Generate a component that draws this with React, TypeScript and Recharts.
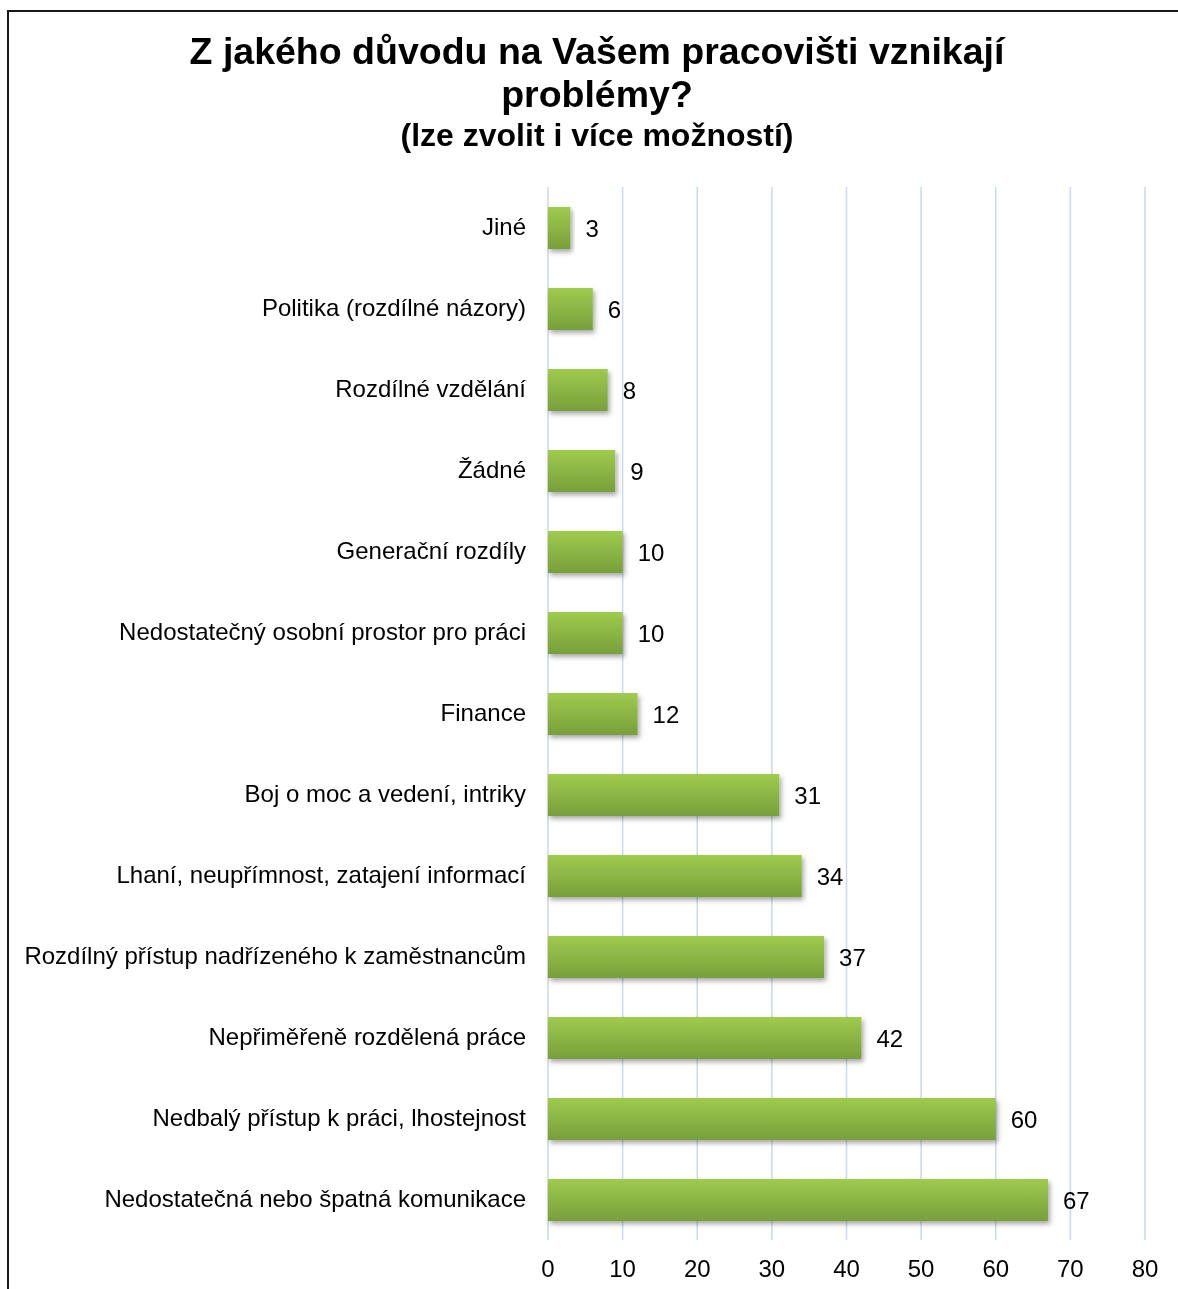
import React from "react";
import { BarChart, Bar, XAxis, YAxis, CartesianGrid, LabelList } from "recharts";

const categories = [
  "Jiné",
  "Politika (rozdílné názory)",
  "Rozdílné vzdělání",
  "Žádné",
  "Generační rozdíly",
  "Nedostatečný osobní prostor pro práci",
  "Finance",
  "Boj o moc a vedení, intriky",
  "Lhaní, neupřímnost, zatajení informací",
  "Rozdílný přístup nadřízeného k zaměstnancům",
  "Nepřiměřeně rozdělená práce",
  "Nedbalý přístup k práci, lhostejnost",
  "Nedostatečná nebo špatná komunikace",
];
const values = [3, 6, 8, 9, 10, 10, 12, 31, 34, 37, 42, 60, 67];
const xTicks = [0, 10, 20, 30, 40, 50, 60, 70, 80];

const titleLine1 = "Z jakého důvodu na Vašem pracovišti vznikají";
const titleLine2 = "problémy?";
const subtitle = "(lze zvolit i více možností)";

const data = categories.map((name, i) => ({ name, value: values[i] }));

const FONT = "Arial, 'Liberation Sans', sans-serif";

export default function App() {
  return (
    <div style={{ position: "relative", width: 1162, height: 1273, fontFamily: FONT }}>
      <div
        style={{
          position: "fixed",
          left: 7,
          top: 10,
          right: 0,
          bottom: 0,
          borderTop: "2px solid #1a1a1a",
          borderLeft: "2px solid #1a1a1a",
          boxSizing: "border-box",
        }}
      />
      <svg
        width={1162}
        height={160}
        style={{ position: "absolute", left: 0, top: 0 }}
      >
        <text x={589} y={56} textAnchor="middle" fontFamily={FONT} fontWeight="bold" fontSize={37.5} fill="#000">
          {titleLine1}
        </text>
        <text x={589} y={99} textAnchor="middle" fontFamily={FONT} fontWeight="bold" fontSize={37.5} fill="#000">
          {titleLine2}
        </text>
        <text x={589} y={138} textAnchor="middle" fontFamily={FONT} fontWeight="bold" fontSize={32} fill="#000">
          {subtitle}
        </text>
      </svg>
      <div style={{ position: "absolute", left: 0, top: 0 }}>
        <BarChart
          width={1162}
          height={1273}
          data={data}
          layout="vertical"
          margin={{ top: 179, right: 25, bottom: 1, left: 0 }}
          barSize={42}
        >
          <defs>
            <linearGradient id="barGrad" x1="0" y1="0" x2="0" y2="1">
              <stop offset="0%" stopColor="#9fcb4e" />
              <stop offset="100%" stopColor="#779f3a" />
            </linearGradient>
            <filter id="barShadow" x="-10%" y="-30%" width="130%" height="180%">
              <feDropShadow dx="2" dy="3" stdDeviation="2.5" floodColor="#000" floodOpacity="0.35" />
            </filter>
          </defs>
          <CartesianGrid horizontal={false} stroke="#c9d9ee" strokeWidth={1.5} />
          <XAxis
            type="number"
            domain={[0, 80]}
            ticks={xTicks}
            axisLine={false}
            tickLine={false}
            tickSize={0}
            tickMargin={20}
            height={40}
            tick={{ fill: "#000", fontSize: 24, fontFamily: FONT }}
            interval={0}
          />
          <YAxis
            type="category"
            dataKey="name"
            width={540}
            axisLine={false}
            tickLine={false}
            tickSize={0}
            tickMargin={22}
            interval={0}
            tick={{ fill: "#000", fontSize: 24, fontFamily: FONT, dy: -1 }}
          />
          <Bar
            dataKey="value"
            fill="url(#barGrad)"
            filter="url(#barShadow)"
            isAnimationActive={false}
          >
            <LabelList
              dataKey="value"
              position="right"
              offset={15}
              style={{ fill: "#000", fontSize: 24, fontFamily: FONT }}
            />
          </Bar>
        </BarChart>
      </div>
    </div>
  );
}
